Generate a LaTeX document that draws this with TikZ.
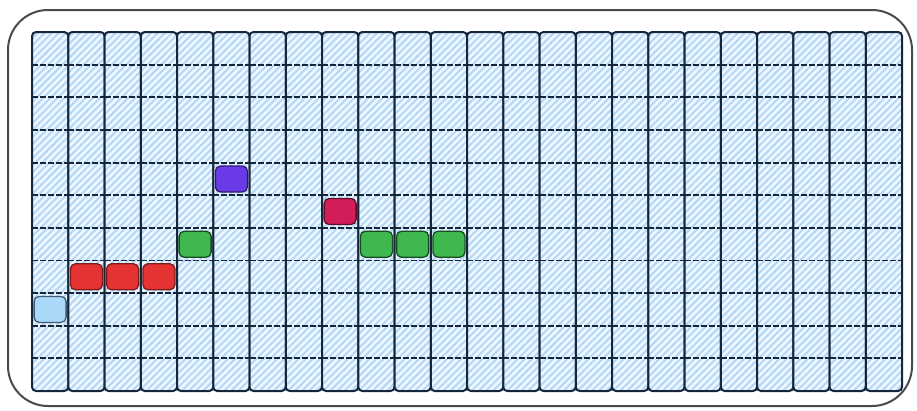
\documentclass[tikz,border=0pt]{standalone}
\usetikzlibrary{patterns.meta}
\definecolor{gridline}{HTML}{16263A}
\definecolor{cellbg}{HTML}{EEF7FE}
\definecolor{hatch}{HTML}{B3D8F6}
\definecolor{framec}{HTML}{4A4A4A}
\definecolor{cred}{HTML}{E53232}
\definecolor{cgreen}{HTML}{3FB84F}
\definecolor{cpurple}{HTML}{6A3AE8}
\definecolor{ccrimson}{HTML}{D21E58}
\definecolor{cblue}{HTML}{A9D8F8}
\tikzset{
  colstrip/.style={draw=gridline, line width=2pt, rounded corners=4pt,
    preaction={fill=cellbg},
    pattern={Lines[angle=45,distance=5pt,line width=2pt]}, pattern color=hatch},
  rowline/.style={draw=gridline, line width=1.9pt, dash pattern=on 6pt off 2pt},
  mark cell/.style={rectangle, rounded corners=5pt, line width=1.3pt,
    minimum width=32pt, minimum height=26pt, inner sep=0pt},
  outerframe/.style={draw=framec, line width=2pt, rounded corners=40pt}
}
\begin{document}
\begin{tikzpicture}[x=1pt,y=-1pt]
\useasboundingbox (0,0) rectangle (917,410);
\draw[outerframe] (8,10) rectangle (912,406);
% columns
\foreach \i in {0,...,23}{
  \pgfmathsetmacro{\xa}{32+36.25*\i}
  \pgfmathsetmacro{\xb}{32+36.25*(\i+1)}
  \draw[colstrip] (\xa,32) rectangle (\xb,391);
  \foreach \j in {1,...,10}{
    \pgfmathsetmacro{\yy}{32+32.64*\j}
    \draw[rowline] (\xa,\yy) -- (\xb,\yy);
  }
}
% coloured cells
\node[mark cell, fill=cblue, draw=gridline!70!cblue] (b0) at (50.1,309.4) {};
\node[mark cell, fill=cred, draw=cred!55!black] (r1) at (86.4,276.8) {};
\node[mark cell, fill=cred, draw=cred!55!black] (r2) at (122.6,276.8) {};
\node[mark cell, fill=cred, draw=cred!55!black] (r3) at (158.9,276.8) {};
\node[mark cell, fill=cgreen, draw=cgreen!40!black] (g1) at (195.1,244.2) {};
\node[mark cell, fill=cpurple, draw=cpurple!45!black] (p1) at (231.4,179.0) {};
\node[mark cell, fill=ccrimson, draw=ccrimson!45!black] (c1) at (340.1,211.5) {};
\node[mark cell, fill=cgreen, draw=cgreen!40!black] (g2) at (376.4,244.2) {};
\node[mark cell, fill=cgreen, draw=cgreen!40!black] (g3) at (412.6,244.2) {};
\node[mark cell, fill=cgreen, draw=cgreen!40!black] (g4) at (448.9,244.2) {};
\end{tikzpicture}
\end{document}
